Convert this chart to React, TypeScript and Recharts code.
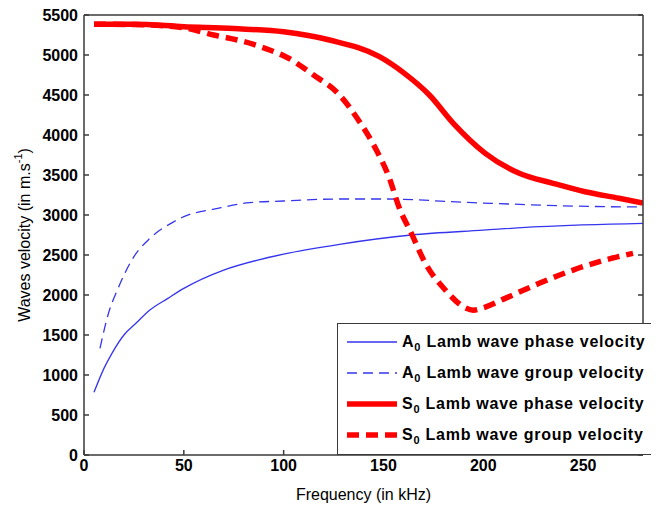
import { LineChart, Line, XAxis, YAxis, Legend, Label } from 'recharts'

// frequencies (kHz) and velocities (m/s)
const A0_PHASE_F = [5, 10, 14, 20, 26, 33, 42, 50, 70, 87, 100, 128, 164, 200, 228, 280]
const A0_PHASE_V = [784, 1083, 1271, 1500, 1646, 1812, 1958, 2083, 2312, 2437, 2512, 2634, 2750, 2810, 2854, 2896]

const A0_GROUP_F = [8, 12.5, 16.7, 25, 33, 45, 50, 67, 83, 100, 128, 150, 195, 261, 280]
const A0_GROUP_V = [1333, 1791, 2062, 2479, 2708, 2916, 2979, 3083, 3154, 3175, 3200, 3200, 3154, 3104, 3100]

const S0_PHASE_F = [5, 25, 50, 75, 100, 123, 148, 160, 173, 185, 201, 218, 235, 251, 268, 280]
const S0_PHASE_V = [5385, 5385, 5354, 5330, 5290, 5187, 4979, 4780, 4500, 4146, 3771, 3521, 3396, 3291, 3210, 3150]

const S0_GROUP_F = [5, 25, 50, 65, 77, 85, 93, 101, 115, 128, 138, 146, 153, 158, 164, 171, 181, 191, 195, 200, 211, 228, 245, 261, 275]
const S0_GROUP_V = [5385, 5380, 5340, 5250, 5187, 5133, 5062, 4979, 4750, 4500, 4166, 3833, 3458, 3083, 2771, 2396, 2062, 1840, 1810, 1840, 1958, 2146, 2312, 2437, 2521]

const X_TICKS = [0, 50, 100, 150, 200, 250]
const Y_TICKS = [0, 500, 1000, 1500, 2000, 2500, 3000, 3500, 4000, 4500, 5000, 5500]

const toPoints = (fs: number[], vs: number[]) => fs.map((f, i) => ({ f, v: vs[i] }))

const BLUE = '#3535ee'
const RED = '#ff0000'
const AXIS = '#3a3a3a'

const series = [
  { key: 'a0p', letter: 'A', text: 'Lamb wave phase velocity', data: toPoints(A0_PHASE_F, A0_PHASE_V), color: BLUE, width: 1.3, dash: undefined },
  { key: 'a0g', letter: 'A', text: 'Lamb wave group velocity', data: toPoints(A0_GROUP_F, A0_GROUP_V), color: BLUE, width: 1.3, dash: '10 6' },
  { key: 's0p', letter: 'S', text: 'Lamb wave phase velocity', data: toPoints(S0_PHASE_F, S0_PHASE_V), color: RED, width: 5.5, dash: undefined },
  { key: 's0g', letter: 'S', text: 'Lamb wave group velocity', data: toPoints(S0_GROUP_F, S0_GROUP_V), color: RED, width: 5.5, dash: '12 7' },
]

const tickFont = { fontSize: 16, fontWeight: 'bold', fill: '#000', fontFamily: '"Liberation Sans", Arial, sans-serif' }

function LegendBox() {
  return (
    <div style={{ border: `1px solid ${AXIS}`, background: '#fff', boxSizing: 'border-box', width: '100%', height: '100%', paddingTop: 2 }}>
      {series.map(s => (
        <div key={s.key} style={{ height: 31, display: 'flex', alignItems: 'center' }}>
          <svg width={60} height={10} style={{ marginLeft: 9, marginRight: 5 }}>
            <line x1={0} x2={50} y1={5} y2={5} stroke={s.color} strokeWidth={s.width} strokeDasharray={s.dash} />
          </svg>
          <span style={{ fontFamily: '"Liberation Sans", Arial, sans-serif', fontWeight: 'bold', fontSize: 16, letterSpacing: 0.75, color: '#000', whiteSpace: 'nowrap', marginLeft: -10 }}>
            {s.letter}
            <span style={{ fontSize: 11, position: 'relative', top: 4 }}>0</span> {s.text}
          </span>
        </div>
      ))}
    </div>
  )
}

function YLabel(props: any) {
  const vb = props.viewBox || {}
  const cy = vb.y + vb.height / 2
  const cx = 16
  return (
    <text x={cx} y={cy} transform={`rotate(-90 ${cx} ${cy})`} textAnchor="middle" dominantBaseline="central"
      style={{ fontSize: 16, fontFamily: '"Liberation Sans", Arial, sans-serif', fill: '#000' }}>
      Waves velocity (in m.s
      <tspan fontSize={11} dy={-6}>-1</tspan>
      <tspan dy={6}>)</tspan>
    </text>
  )
}

export default function App() {
  return (
    <div style={{ width: 651, height: 498, position: 'relative' }}>
      <LineChart width={651} height={498} margin={{ top: 6, right: 15, bottom: 0, left: 0 }}>
        <XAxis dataKey="f" type="number" domain={[0, 280]} ticks={X_TICKS} interval={0} allowDataOverflow
          height={51} tickSize={-5} tickMargin={10} stroke={AXIS} strokeWidth={1.5} tick={tickFont}>
          <Label value="Frequency (in kHz)" position="insideBottom" offset={6}
            style={{ fontSize: 16, fontFamily: '"Liberation Sans", Arial, sans-serif', fill: '#000' }} />
        </XAxis>
        <XAxis xAxisId="top" orientation="top" type="number" domain={[0, 280]} ticks={X_TICKS} interval={0}
          allowDataOverflow height={1} tickSize={-5} stroke={AXIS} strokeWidth={1.5} tick={() => <g />} />
        <YAxis type="number" domain={[0, 5500]} ticks={Y_TICKS} interval={0} allowDataOverflow
          width={76} tickSize={-5} tickMargin={11} stroke={AXIS} strokeWidth={1.5} tick={tickFont}>
          <Label content={<YLabel />} />
        </YAxis>
        <YAxis yAxisId="right" orientation="right" type="number" domain={[0, 5500]} ticks={Y_TICKS} interval={0}
          allowDataOverflow width={1} tickSize={-5} stroke={AXIS} strokeWidth={1.5} tick={() => <g />} />
        {series.map(s => (
          <Line key={s.key} data={s.data} dataKey="v" type="monotone" stroke={s.color} strokeWidth={s.width}
            strokeDasharray={s.dash} dot={false} activeDot={false} isAnimationActive={false} />
        ))}
        <Legend layout="horizontal" verticalAlign="middle" align="center" content={<LegendBox />}
          wrapperStyle={{ left: 329, top: 315, width: 316, height: 132 }} />
      </LineChart>
    </div>
  )
}
